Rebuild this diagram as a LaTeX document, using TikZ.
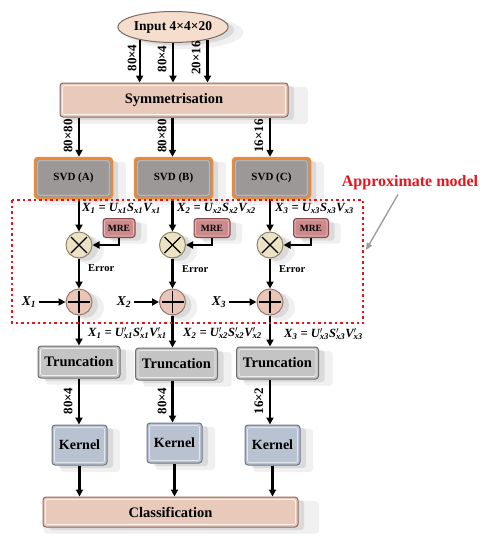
\documentclass[tikz,border=0pt]{standalone}
\usepackage{fontspec}
\setmainfont{Liberation Serif}
\usetikzlibrary{shapes.geometric,shadows,arrows.meta,calc}
\definecolor{infill}{HTML}{F5DECD}
\definecolor{inbd}{HTML}{7A6A60}
\definecolor{symfill}{HTML}{E8C9BA}
\definecolor{symbd}{HTML}{8A6A5E}
\definecolor{svdor}{HTML}{EE8A35}
\definecolor{svdfill}{HTML}{9C9898}
\definecolor{mrefill}{HTML}{CC8A8C}
\definecolor{mrebd}{HTML}{8A4A4C}
\definecolor{mulfill}{HTML}{ECE2C4}
\definecolor{mulbd}{HTML}{8E8468}
\definecolor{addfill}{HTML}{E9C6B8}
\definecolor{addbd}{HTML}{9A7A6E}
\definecolor{trfill}{HTML}{C4C4C4}
\definecolor{trbd}{HTML}{6E6E6E}
\definecolor{kfill}{HTML}{B8C2D0}
\definecolor{kbd}{HTML}{6C7888}
\definecolor{amred}{HTML}{E8141C}
\newcommand\myeq[1]{X\textsubscript{#1} = U\textsubscript{x#1}S\textsubscript{x#1}V\textsubscript{x#1}}
\newcommand\mypr[1]{\rlap{\textsuperscript{$\prime$}}\textsubscript{#1}}
\newcommand\myeqp[1]{X\textsubscript{#1} = U\mypr{x#1}S\mypr{x#1}V\mypr{x#1}}
\newcommand\bevelbox[3][3]{\draw[#3, line width=0.8pt, rounded corners=2pt] ([shift={(#1,#1)}]#2.north west) rectangle ([shift={(-#1,-#1)}]#2.south east);}
\begin{document}
\begin{tikzpicture}[x=1pt,y=-1pt,
  softshadow/.style={general shadow={fill=black,opacity=.06,shadow xshift=10pt,shadow yshift=-5pt,shadow scale=1.08},
                     general shadow={fill=black,opacity=.09,shadow xshift=6pt,shadow yshift=-3pt}},
  box/.style={rectangle, rounded corners=3pt, inner sep=0pt, draw, line width=1pt, softshadow},
  circ/.style={circle, minimum size=26pt, inner sep=0pt, draw, line width=1pt, softshadow},
  arr/.style={-{Triangle[length=7pt,width=7pt]}, line width=2.1pt, black},
  dimlbl/.style={rotate=90, font=\bfseries\fontsize{13}{15}\selectfont, inner sep=1pt},
  eqlbl/.style={font=\bfseries\itshape\fontsize{12.5}{14}\selectfont, inner sep=0pt, anchor=west},
  errlbl/.style={font=\bfseries\fontsize{10.5}{12}\selectfont, inner sep=0pt, anchor=west},
  xlbl/.style={font=\bfseries\itshape\fontsize{13.5}{15}\selectfont, inner sep=0pt}
]
\useasboundingbox (0,0) rectangle (494,550);

% input
\node[ellipse, draw=inbd, line width=1pt, fill=infill, minimum width=98pt, minimum height=31pt, inner sep=0pt, softshadow,
      font=\bfseries\fontsize{13.5}{15}\selectfont] (in) at (173,27) {Input 4×4×20};
% symmetrisation
\node[box, draw=symbd, fill=symfill, minimum width=228pt, minimum height=34pt, font=\bfseries\fontsize{14.5}{16}\selectfont] (sym) at (174,100) {Symmetrisation};
\bevelbox{sym}{white!80!symfill}
% svd
\foreach \n/\x/\t in {svdA/73.5/A, svdB/173.5/B, svdC/271.5/C}{
  \node[box, draw=svdor, line width=2.5pt, fill=svdfill, minimum width=77pt, minimum height=40pt, font=\bfseries\fontsize{11}{13}\selectfont] (\n) at (\x,178) {SVD (\t)};
  \bevelbox[4]{\n}{white!45!svdfill}
}
% mre
\foreach \n/\x/\w in {mreA/119/32, mreB/212/36, mreC/311/35}{
  \node[box, draw=mrebd, fill=mrefill, minimum width=\w pt, minimum height=19pt, font=\bfseries\fontsize{9.5}{11}\selectfont] (\n) at (\x,228) {MRE};
  \bevelbox[2]{\n}{white!40!mrefill}
}
% multiply circles
\foreach \n/\x in {mulA/79, mulB/172.5, mulC/270}{
  \node[circ, draw=mulbd, fill=mulfill] (\n) at (\x,245) {};
  \draw[line width=1.3pt] ($(\n.center)+(-8,-8)$) -- ($(\n.center)+(8,8)$);
  \draw[line width=1.3pt] ($(\n.center)+(-8,8)$) -- ($(\n.center)+(8,-8)$);
}
% add circles
\foreach \n/\x in {addA/79, addB/172.5, addC/270}{
  \node[circ, draw=addbd, fill=addfill] (\n) at (\x,302) {};
  \draw[line width=1.3pt] ($(\n.center)+(-11,0)$) -- ($(\n.center)+(11,0)$);
  \draw[line width=1.3pt] ($(\n.center)+(0,-11)$) -- ($(\n.center)+(0,11)$);
}
% truncation
\foreach \n/\x/\y in {trA/79/362, trB/176.5/364, trC/277.5/363}{
  \node[box, draw=trbd, fill=trfill, minimum width=82pt, minimum height=32pt, font=\bfseries\fontsize{14.5}{16}\selectfont] (\n) at (\x,\y) {Truncation};
  \bevelbox{\n}{white!70!trfill}
}
% kernel
\foreach \n/\x/\y in {kA/79.5/445, kB/174.5/443, kC/272.5/445}{
  \node[box, draw=kbd, fill=kfill, minimum width=55pt, minimum height=40pt, font=\bfseries\fontsize{14}{16}\selectfont] (\n) at (\x,\y) {Kernel};
  \bevelbox{\n}{white!60!kfill}
}
% classification
\node[box, draw=symbd, fill=symfill, minimum width=255pt, minimum height=30pt, font=\bfseries\fontsize{14.5}{16}\selectfont] (cls) at (170.5,512) {Classification};
\bevelbox{cls}{white!80!symfill}

% input arrows
\draw[arr] (in.201) -- (in.201 |- sym.north);
\draw[arr] (in.south) -- (in.south |- sym.north);
\draw[arr] (in.340) -- (in.340 |- sym.north);
\node[dimlbl] (d1) at (132,58) {80×4};
\node[dimlbl] (d2) at (162,59) {80×4};
\node[dimlbl] (d3) at (196,58) {20×16};

% sym -> svd
\draw[arr] (sym.south -| mulA) -- (svdA.north -| mulA);
\draw[arr] (sym.south -| mulB) -- (svdB.north -| mulB);
\draw[arr] (sym.south -| mulC) -- (svdC.north -| mulC);
\node[dimlbl] (d4) at (68,136) {80×80};
\node[dimlbl] (d5) at (162,136) {80×80};
\node[dimlbl] (d6) at (259,136) {16×16};

% svd -> mul
\draw[arr] (svdA.south -| mulA) -- (mulA.north);
\draw[arr] (svdB.south -| mulB) -- (mulB.north);
\draw[arr] (svdC.south -| mulC) -- (mulC.north);
\node[eqlbl] (e1) at (82,208) {\myeq{1}};
\node[eqlbl] (e2) at (177,208) {\myeq{2}};
\node[eqlbl] (e3) at (275,208) {\myeq{3}};

% mre -> mul
\draw[arr] (mreA.south) |- (mulA.east);
\draw[arr] (mreB.south) |- (mulB.east);
\draw[arr] (mreC.south) |- (mulC.east);

% mul -> add
\draw[arr] (mulA.south) -- (addA.north);
\draw[arr] (mulB.south) -- (addB.north);
\draw[arr] (mulC.south) -- (addC.north);
\node[errlbl] (er1) at (88,268) {Error};
\node[errlbl] (er2) at (182,269) {Error};
\node[errlbl] (er3) at (279,269) {Error};

% X inputs
\node[xlbl] (x1) at (29,302) {X\textsubscript{1}};
\node[xlbl] (x2) at (124,302) {X\textsubscript{2}};
\node[xlbl] (x3) at (219,302) {X\textsubscript{3}};
\draw[arr] (x1.east) ++(3,0) -- (addA.west);
\draw[arr] (x2.east) ++(3,0) -- (addB.west);
\draw[arr] (x3.east) ++(3,0) -- (addC.west);

% add -> truncation
\draw[arr] (addA.south) -- (addA.south |- trA.north);
\draw[arr] (addB.south) -- (addB.south |- trB.north);
\draw[arr] (addC.south) -- (addC.south |- trC.north);
\node[eqlbl] (p1) at (88,333) {\myeqp{1}};
\node[eqlbl] (p2) at (183,333) {\myeqp{2}};
\node[eqlbl] (p3) at (284,334) {\myeqp{3}};

% truncation -> kernel
\draw[arr] (trA.south -| addA) -- (kA.north -| addA);
\draw[arr] (trB.south -| addB) -- (kB.north -| addB);
\draw[arr] (trC.south -| addC) -- (kC.north -| addC);
\node[dimlbl] (d7) at (68,401) {80×4};
\node[dimlbl] (d8) at (162,401) {80×4};
\node[dimlbl] (d9) at (259,401) {16×2};

% kernel -> classification
\draw[arr] (kA.south) -- (kA.south |- cls.north);
\draw[arr] (kB.south) -- (kB.south |- cls.north);
\draw[arr] (kC.south) -- (kC.south |- cls.north);

% approximate model
\coordinate (amTL) at (12,200);
\coordinate (amBR) at (363,323);
\coordinate (amTip) at (366,250);
\draw[amred, line width=2.5pt, dash pattern=on 2.5pt off 3pt] (amTL) rectangle (amBR);
\node[font=\bfseries\fontsize{16}{18}\selectfont, text=amred, inner sep=1pt] (am) at (410,183) {Approximate model};
\draw[-{Triangle[length=7pt,width=6pt]}, line width=1.4pt, gray!75] ([xshift=-12pt,yshift=-3pt]am.south) -- (amTip);
\end{tikzpicture}
\end{document}
